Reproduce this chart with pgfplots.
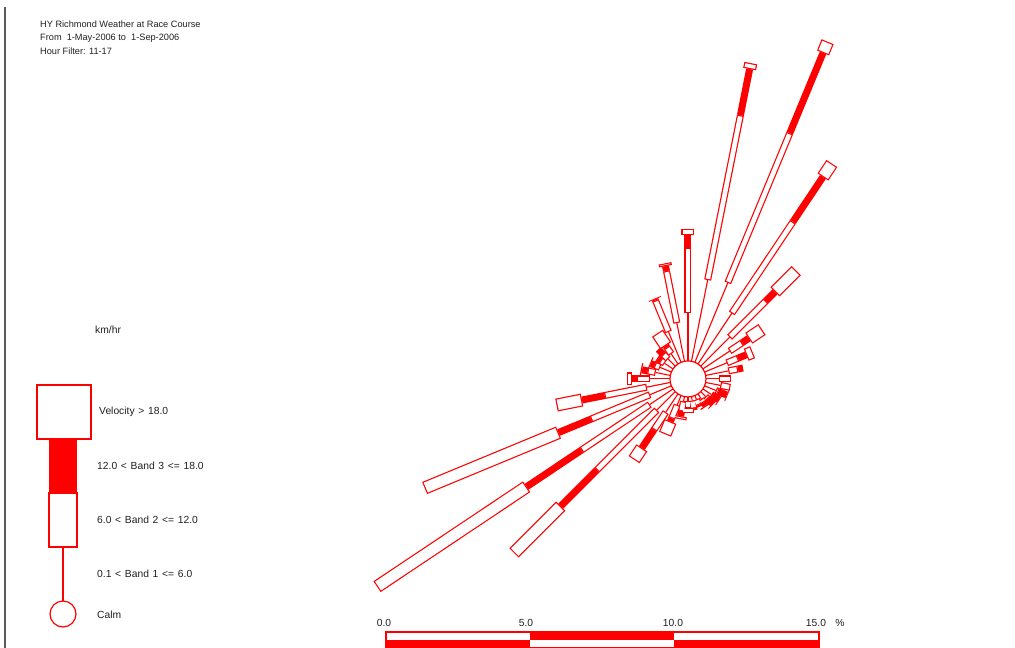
\documentclass[border=0pt]{standalone}
\usepackage{fontspec}
\setmainfont{Liberation Sans}
\newfontfamily\legfont[WordSpace=1.3]{Liberation Sans}
\usepackage{pgfplots}
\usepackage{pgfplotstable}
\pgfplotsset{compat=1.18}

% direction (deg, clockwise from N), cumulative % at end of band 1..4
\pgfplotstableread{
a b1 b2 b3 b4
0 1.66 3.91 4.36 4.57
11.25 2.87 8.69 10.32 10.53
22.5 2.98 8.59 11.60 12.02
33.75 2.11 5.92 7.79 8.35
45 1.42 3.19 3.64 4.68
56.25 1.11 1.63 1.91 2.46
67.5 0.83 1.25 1.56 1.80
78.75 0.80 1.14 1.32 1.32
90 0.45 0.87 0.87 0.87
101.25 0.52 0.87 0.87 0.87
112.5 0.42 0.52 0.83 0.86
123.75 0.35 0.42 0.66 0.69
135 0.24 0.35 0.59 0.62
146.25 0.21 0.35 0.48 0.52
157.5 0.14 0.35 0.42 0.42
168.75 0.14 0.42 0.48 0.48
180 0.14 0.38 0.38 0.55
191.25 0.17 0.52 0.69 0.80
202.5 0.35 0.85 0.97 1.45
213.75 0.76 1.49 2.25 2.74
225 0.90 3.84 5.61 7.90
236.25 0.97 3.81 6.10 12.33
247.5 0.80 3.01 4.23 9.25
258.75 0.83 2.32 3.12 4.02
270 0.69 1.14 1.32 1.49
281.25 0.52 0.80 1.00 1.04
292.5 0.42 0.62 0.76 0.80
303.75 0.35 0.52 0.62 0.66
315 0.35 0.59 0.83 0.83
326.25 0.42 0.69 0.76 1.28
337.5 1.14 2.32 2.36 2.39
348.75 1.35 3.19 3.36 3.46
}\rose

\def\rz{0.6235}   % calm circle radius in % units
\def\pxu{0.0415}  % outline thickness in % units
\definecolor{txt}{HTML}{202020}

\begin{document}
\begin{tikzpicture}
\useasboundingbox (0,0) rectangle (1015pt,-648pt);

\begin{axis}[at={(0pt,-648pt)}, anchor=south west, scale only axis,
  x=28.87pt, y=28.87pt, xmin=-23.83, xmax=11.33, ymin=-9.32, ymax=13.13,
  hide axis, clip=false]
% band 1: thin line
\addplot[red, line width=1.1pt, -, line cap=butt,
  quiver={u={(\thisrow{b1})*sin(\thisrow{a})}, v={(\thisrow{b1})*cos(\thisrow{a})}}]
  table[x expr={\rz*sin(\thisrow{a})}, y expr={\rz*cos(\thisrow{a})}] {\rose};
% band 2 outline
\addplot[red, line width=7pt, -, line cap=butt,
  quiver={u={(\thisrow{b2}-\thisrow{b1})*sin(\thisrow{a})}, v={(\thisrow{b2}-\thisrow{b1})*cos(\thisrow{a})}}]
  table[x expr={(\rz+\thisrow{b1})*sin(\thisrow{a})}, y expr={(\rz+\thisrow{b1})*cos(\thisrow{a})}] {\rose};
% band 3 filled
\addplot[red, line width=7pt, -, line cap=butt,
  quiver={u={(\thisrow{b3}-\thisrow{b2})*sin(\thisrow{a})}, v={(\thisrow{b3}-\thisrow{b2})*cos(\thisrow{a})}}]
  table[x expr={(\rz+\thisrow{b2})*sin(\thisrow{a})}, y expr={(\rz+\thisrow{b2})*cos(\thisrow{a})}] {\rose};
% band 4 outline
\addplot[red, line width=13pt, -, line cap=butt,
  quiver={u={(\thisrow{b4}-\thisrow{b3})*sin(\thisrow{a})}, v={(\thisrow{b4}-\thisrow{b3})*cos(\thisrow{a})}}]
  table[x expr={(\rz+\thisrow{b3})*sin(\thisrow{a})}, y expr={(\rz+\thisrow{b3})*cos(\thisrow{a})}] {\rose};
% band 2 interior
\addplot[white, line width=4.6pt, -, line cap=butt,
  quiver={u={max(\thisrow{b2}-\thisrow{b1}-2*\pxu,0)*sin(\thisrow{a})}, v={max(\thisrow{b2}-\thisrow{b1}-2*\pxu,0)*cos(\thisrow{a})}}]
  table[x expr={(\rz+\thisrow{b1}+\pxu)*sin(\thisrow{a})}, y expr={(\rz+\thisrow{b1}+\pxu)*cos(\thisrow{a})}] {\rose};
% band 4 interior
\addplot[white, line width=10.6pt, -, line cap=butt,
  quiver={u={max(\thisrow{b4}-\thisrow{b3}-2*\pxu,0)*sin(\thisrow{a})}, v={max(\thisrow{b4}-\thisrow{b3}-2*\pxu,0)*cos(\thisrow{a})}}]
  table[x expr={(\rz+\thisrow{b3}+\pxu)*sin(\thisrow{a})}, y expr={(\rz+\thisrow{b3}+\pxu)*cos(\thisrow{a})}] {\rose};
% calm circle
\addplot[red, line width=1.2pt, only marks, mark=*, mark size=18pt,
  mark options={fill=white, draw=red}] coordinates {(0,0)};
\node[text=txt, font=\fontsize{10}{12}\selectfont] at (axis cs:0,0) {0};
\end{axis}

\begin{scope}[x=1pt, y=-1pt]
\draw[line width=1.6pt, black!65] (4.8,7) -- (4.8,648);
\begin{scope}[font=\fontsize{9.2}{11}\selectfont, text=txt]
\node[anchor=west, inner sep=0pt] at (40,24) {HY Richmond Weather at Race Course};
\node[anchor=west, inner sep=0pt] at (40,38) {From\ \ 1-May-2006 to\ \ 1-Sep-2006};
\node[anchor=west, inner sep=0pt] at (40,51) {Hour Filter: 11-17};
\end{scope}
\begin{scope}[font=\legfont\fontsize{10.3}{12}\selectfont, text=txt]
\node[anchor=west, inner sep=0pt] at (95,330) {km/hr};
\node[anchor=west, inner sep=0pt] at (99,412) {Velocity > 18.0};
\node[anchor=west, inner sep=0pt] at (97,466) {12.0 < Band 3 <= 18.0};
\node[anchor=west, inner sep=0pt] at (97,520) {6.0 < Band 2 <= 12.0};
\node[anchor=west, inner sep=0pt] at (97,574) {0.1 < Band 1 <= 6.0};
\node[anchor=west, inner sep=0pt] at (97,615) {Calm};
\node[inner sep=0pt] at (384,623) {0.0};
\node[inner sep=0pt] at (526,623) {5.0};
\node[inner sep=0pt] at (673,623) {10.0};
\node[inner sep=0pt] at (816,623) {15.0};
\node[inner sep=0pt] at (840,623) {\%};
\end{scope}
% legend glyph
\draw[red, line width=1.4pt, fill=white] (37,385) rectangle (91,439);
\fill[red] (49,439) rectangle (77,493);
\draw[red, line width=1.4pt, fill=white] (49,493) rectangle (77,547);
\draw[red, line width=1.4pt] (63,547) -- (63,601);
\draw[red, line width=1.2pt, fill=white] (63,614) circle[radius=13];
% scale bar
\fill[red] (530,632) rectangle (674,640);
\fill[red] (386,640) rectangle (530,647.3);
\fill[red] (674,640) rectangle (819,647.3);
\draw[red, line width=1.4pt] (386,632) rectangle (819,647.3);
\end{scope}
\end{tikzpicture}
\end{document}
